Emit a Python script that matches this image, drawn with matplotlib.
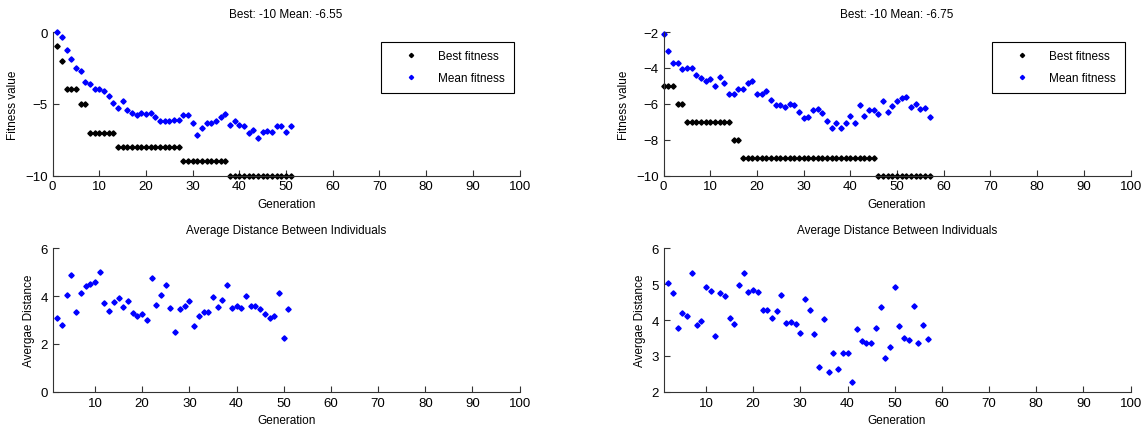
import numpy as np
import matplotlib.pyplot as plt

plt.rcParams['font.family'] = ['Liberation Sans', 'DejaVu Sans']

# run 1 (left column)
gen_fit_1 = np.arange(1, 52)
best_1 = [-1, -2, -4, -4, -4, -5, -5] + [-7] * 6 + [-8] * 14 + [-9] * 10 + [-10] * 14
mean_1 = [0, -0.35, -1.28, -1.86, -2.49, -2.74, -3.49, -3.6, -3.95, -3.95,
          -4.14, -4.42, -4.93, -5.3, -4.81, -5.4, -5.65, -5.81, -5.65, -5.74,
          -5.65, -5.95, -6.23, -6.23, -6.23, -6.16, -6.16, -5.81, -5.81, -6.33,
          -7.2, -6.7, -6.33, -6.33, -6.23, -5.93, -5.74, -6.47, -6.23, -6.47,
          -6.56, -7.05, -6.81, -7.37, -6.98, -6.91, -6.98, -6.56, -6.56, -6.98,
          -6.55]
gen_dist_1 = np.arange(2, 52)
dist_1 = [3.07, 2.80, 4.04, 4.90, 3.35, 4.11, 4.41, 4.50, 4.57, 4.99,
          3.71, 3.36, 3.77, 3.92, 3.56, 3.81, 3.28, 3.15, 3.25, 3.01,
          4.76, 3.63, 4.06, 4.45, 3.50, 2.52, 3.46, 3.57, 3.81, 2.76,
          3.18, 3.32, 3.32, 3.95, 3.56, 3.85, 4.46, 3.50, 3.57, 3.50,
          4.02, 3.60, 3.60, 3.46, 3.25, 3.07, 3.18, 4.11, 2.23, 3.46]

# run 2 (right column)
gen_fit_2 = np.arange(0, 58)
best_2 = [-5] * 3 + [-6] * 2 + [-7] * 10 + [-8] * 2 + [-9] * 29 + [-10] * 12
mean_2 = [-2.13, -3.04, -3.73, -3.73, -4.07, -4.02, -4.02, -4.39, -4.58, -4.73,
          -4.6, -5.01, -4.49, -4.86, -5.43, -5.43, -5.2, -5.2, -4.82, -4.73,
          -5.43, -5.43, -5.26, -5.8, -6.09, -6.09, -6.2, -6.01, -6.09, -6.43,
          -6.8, -6.75, -6.37, -6.27, -6.52, -6.95, -7.37, -7.08, -7.37, -7.05,
          -6.67, -7.08, -6.09, -6.67, -6.33, -6.33, -6.54, -5.82, -6.47, -6.14,
          -5.86, -5.67, -5.6, -6.2, -5.99, -6.29, -6.22, -6.75]
gen_dist_2 = np.arange(2, 58)
dist_2 = [5.02, 4.75, 3.79, 4.19, 4.11, 5.32, 3.85, 3.96, 4.92, 4.81,
          3.55, 4.76, 4.66, 4.06, 3.89, 4.98, 5.32, 4.79, 4.83, 4.79,
          4.29, 4.29, 4.06, 4.25, 4.71, 3.92, 3.95, 3.89, 3.65, 4.58,
          4.29, 3.62, 2.70, 4.04, 2.56, 3.09, 2.63, 3.07, 3.07, 2.26,
          3.75, 3.42, 3.36, 3.36, 3.79, 4.35, 2.95, 3.26, 4.91, 3.82,
          3.50, 3.43, 4.39, 3.36, 3.86, 3.47]

titles = ['Best: -10 Mean: -6.55', 'Best: -10 Mean: -6.75']
fit_ylims = [(-10, 0), (-10, -2)]
fit_yticks = [[-10, -5, 0], [-10, -8, -6, -4, -2]]
dist_ylims = [(0, 6), (2, 6)]
dist_yticks = [[0, 2, 4, 6], [2, 3, 4, 5, 6]]

fig = plt.figure(figsize=(11.42, 4.35), dpi=100)
lefts = [0.046, 0.581]
w, h = 0.409, 0.330
ms = 2.7


def style(ax):
    for s in ['top', 'right']:
        ax.spines[s].set_visible(False)
    for s in ['left', 'bottom']:
        ax.spines[s].set_color('#333333')
    ax.tick_params(direction='in', length=4, labelsize=9.5, colors='#333333',
                   labelcolor='black')


runs = [(gen_fit_1, best_1, mean_1, gen_dist_1, dist_1),
        (gen_fit_2, best_2, mean_2, gen_dist_2, dist_2)]

for i, (gf, best, mean, gd, dist) in enumerate(runs):
    ax = fig.add_axes([lefts[i], 0.594, w, h])
    ax.plot(gf, best, 'D', color='black', ms=ms, ls='none', clip_on=False,
            label='Best fitness')
    ax.plot(gf, mean, 'D', color='blue', ms=ms, ls='none', clip_on=False,
            label='Mean fitness')
    ax.set_xlim(0, 100)
    ax.set_ylim(*fit_ylims[i])
    ax.set_yticks(fit_yticks[i])
    ax.set_xticks(range(0, 101, 10))
    ax.set_xlabel('Generation', fontsize=8.5)
    ax.set_ylabel('Fitness value', fontsize=8.5)
    ax.set_title(titles[i], fontsize=8.5, pad=11)
    style(ax)
    leg = ax.legend(loc='upper right', bbox_to_anchor=(0.988, 0.934), fontsize=8.5,
                    numpoints=1, fancybox=False, framealpha=1, edgecolor='black',
                    borderpad=0.75, borderaxespad=0, handlelength=3.5,
                    labelspacing=0.8, handletextpad=0.6, markerscale=0.8)
    leg.get_frame().set_linewidth(0.8)

    ax2 = fig.add_axes([lefts[i], 0.097, w, h])
    ax2.plot(gd, dist, 'D', color='blue', ms=ms, ls='none', clip_on=False)
    ax2.set_xlim(1, 100)
    ax2.set_xticks(range(10, 101, 10))
    ax2.set_ylim(*dist_ylims[i])
    ax2.set_yticks(dist_yticks[i])
    ax2.set_xlabel('Generation', fontsize=8.5)
    ax2.set_ylabel('Avergae Distance', fontsize=8.5)
    ax2.set_title('Average Distance Between Individuals', fontsize=8.5, pad=11)
    style(ax2)

fig.savefig('out.png', dpi=100)
